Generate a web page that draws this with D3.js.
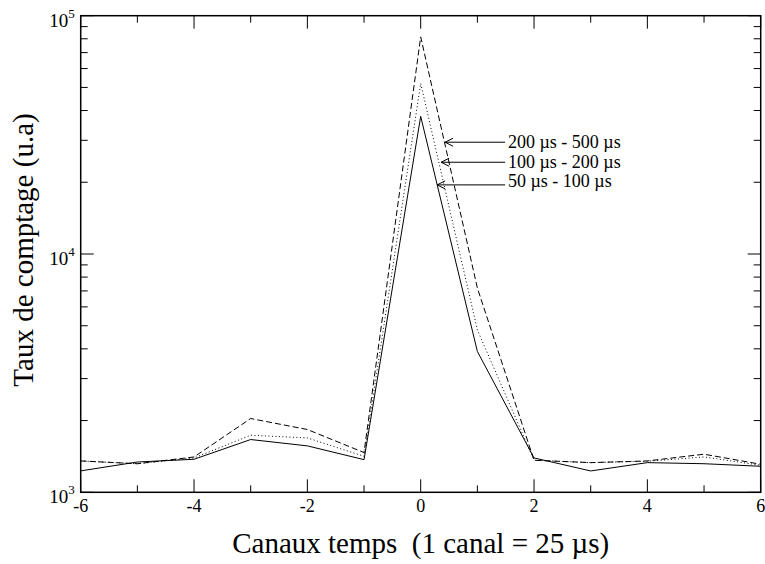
<!DOCTYPE html>
<html><head><meta charset="utf-8">
<script src="https://cdn.jsdelivr.net/npm/d3@7/dist/d3.min.js"></script>
<style>body{margin:0;background:#fff}svg{display:block}text{font-family:"Liberation Serif","Times New Roman",serif;fill:#000}</style>
</head><body><svg id="c" width="765" height="564"></svg>
<script>
const channels = [-6,-5,-4,-3,-2,-1,0,1,2,3,4,5,6];
const s50_100   = [1230,1340,1376,1665,1566,1371,37800,3900,1394,1229,1332,1318,1286];
const s100_200  = [1354,1318,1394,1736,1691,1416,52000,4800,1363,1332,1350,1407,1298];
const s200_500  = [1354,1318,1407,2040,1834,1468,81500,7200,1363,1332,1354,1445,1311];
const xTicks = [-6,-4,-2,0,2,4,6];
const yTicks = [1e3,1e4,1e5];
const annLabels = ["200 µs - 500 µs","100 µs - 200 µs","50 µs - 100 µs"];
const annTipX = [0.43,0.36,0.29];
const annTipY = [29450,24270,19500];
const annTextY = [29450,24270,20280];
const annTextX = 1.54;
const annLineEndX = 1.49;

const svg = d3.select("#c");
const L=80.7,R=760.7,T=15.7,B=492.3;
const x = d3.scaleLinear().domain([-6,6]).range([L,R]);
const y = d3.scaleLog().domain([1e3,1e5]).range([B,T]);

// ticks (inward, mirrored)
const g = svg.append("g").attr("stroke","#000").attr("stroke-width",1);
const xMinor = d3.range(-6,7,1);
xMinor.forEach(v=>{
  const len = (v%2===0)?13:7;
  g.append("line").attr("x1",x(v)).attr("x2",x(v)).attr("y1",B).attr("y2",B-len);
  g.append("line").attr("x1",x(v)).attr("x2",x(v)).attr("y1",T).attr("y2",T+len);
});
const yAll=[];
[1e3,1e4].forEach(d=>{for(let k=1;k<10;k++) yAll.push(d*k);});
yAll.push(1e5);
yAll.forEach(v=>{
  const major = yTicks.includes(v);
  const len = major?13:7;
  g.append("line").attr("y1",y(v)).attr("y2",y(v)).attr("x1",L).attr("x2",L+len);
  g.append("line").attr("y1",y(v)).attr("y2",y(v)).attr("x1",R).attr("x2",R-len);
});
svg.append("rect").attr("x",L).attr("y",T).attr("width",R-L).attr("height",B-T)
  .attr("fill","none").attr("stroke","#000").attr("stroke-width",1.5);

// tick labels
xTicks.forEach(v=>{
  svg.append("text").attr("x",x(v)).attr("y",B+20).attr("text-anchor","middle")
    .attr("font-size",18).text(v);
});
yTicks.forEach(v=>{
  const e = Math.round(Math.log10(v));
  const t = svg.append("text").attr("x",L-6).attr("y",y(v)+11).attr("text-anchor","end").attr("font-size",19);
  t.append("tspan").text("10");
  t.append("tspan").attr("font-size",13).attr("dy",-9).text(e);
});

// axis titles
svg.append("text").attr("x",(L+R)/2).attr("y",553).attr("text-anchor","middle")
  .attr("font-size",29).attr("xml:space","preserve").style("white-space","pre")
  .text("Canaux temps  (1 canal = 25 µs)");
svg.append("text").attr("transform",`translate(33,250) rotate(-90)`)
  .attr("text-anchor","middle").attr("font-size",29).text("Taux de comptage (u.a)");

// series
const line = d3.line().x((d,i)=>x(channels[i])).y(d=>y(d));
const series = [
  {v:s50_100, dash:null},
  {v:s100_200, dash:"1,2.5"},
  {v:s200_500, dash:"6,3"}
];
series.forEach(s=>{
  svg.append("path").attr("d",line(s.v)).attr("fill","none").attr("stroke","#000")
    .attr("stroke-width",1).attr("stroke-dasharray",s.dash);
});

// annotations
annLabels.forEach((lab,i)=>{
  const tx=x(annTipX[i]), ty=y(annTipY[i]);
  svg.append("line").attr("x1",x(annLineEndX)).attr("x2",tx).attr("y1",ty).attr("y2",ty)
    .attr("stroke","#000").attr("stroke-width",1);
  svg.append("path").attr("d",`M${tx+8},${ty-4}L${tx},${ty}L${tx+8},${ty+4}`)
    .attr("fill","none").attr("stroke","#000").attr("stroke-width",1);
  svg.append("text").attr("x",x(annTextX)).attr("y",y(annTextY[i])+6).attr("font-size",18).text(lab);
});
</script></body></html>
